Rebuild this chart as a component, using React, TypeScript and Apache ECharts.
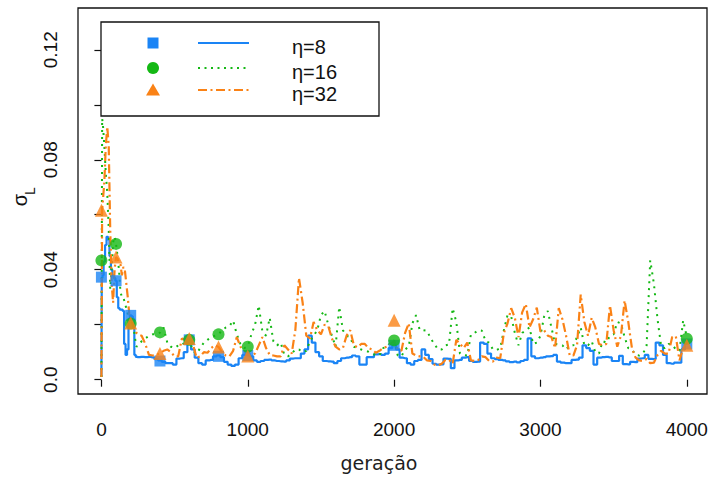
import React, { useEffect, useRef } from "react";
import * as echarts from "echarts";

// x grid (generations)
const earlyGenerations = [0, 5, 10, 20, 30, 40, 50, 60, 70, 80, 90, 100, 110, 120, 130, 140, 150, 160, 170, 180, 190, 200, 210, 220, 230, 240, 250];
const laterGenerations = Array.from({ length: 150 }, (_, i) => 275 + 25 * i);
const generations = [...earlyGenerations, ...laterGenerations];

// η=8
const eta8Values = [
  0.001, 0.037, 0.038, 0.043, 0.049, 0.052, 0.051, 0.045, 0.040, 0.038, 0.037, 0.036, 0.030, 0.026, 0.0255, 0.0255, 0.025, 0.013, 0.009, 0.011, 0.022, 0.0234, 0.023, 0.022, 0.009, 0.0083, 0.0082,
  0.0083, 0.0082,
  0.0083, 0.0081, 0.0075, 0.007,
  0.0065, 0.006, 0.006, 0.0055,
  0.0077, 0.0078, 0.010, 0.0145,
  0.011, 0.008, 0.006, 0.0055,
  0.007, 0.0072, 0.0085, 0.0088,
  0.0082, 0.0065, 0.0055, 0.005,
  0.0055, 0.0078, 0.009, 0.0095,
  0.0085, 0.007, 0.0065, 0.0068,
  0.0072, 0.0073, 0.007, 0.0068,
  0.0067, 0.0066, 0.007, 0.0077,
  0.0078, 0.0078, 0.0095, 0.011,
  0.016, 0.0135, 0.010, 0.0085,
  0.0068, 0.0067, 0.0066, 0.006,
  0.0068, 0.0078, 0.008, 0.0082,
  0.0088, 0.0085, 0.0055, 0.0055,
  0.0082, 0.0082, 0.0092, 0.0093,
  0.009, 0.0095, 0.0115, 0.0128,
  0.011, 0.008, 0.0078, 0.006,
  0.0055, 0.0068, 0.0072, 0.011,
  0.009, 0.0075, 0.0058, 0.0055,
  0.0056, 0.0077, 0.0076, 0.0042,
  0.007, 0.0072, 0.008, 0.0082,
  0.0068, 0.0065, 0.0066, 0.0135,
  0.013, 0.0095, 0.0078, 0.0075,
  0.0072, 0.007, 0.0067, 0.0064,
  0.0066, 0.0063, 0.0068, 0.0072,
  0.015, 0.0085, 0.0078, 0.008,
  0.0082, 0.0085, 0.0086, 0.009,
  0.0066, 0.0062, 0.006, 0.006,
  0.0072, 0.0073, 0.008, 0.0125,
  0.0115, 0.0105, 0.0055, 0.008,
  0.0082, 0.0083, 0.0081, 0.0068,
  0.0068, 0.0087, 0.0057, 0.0056,
  0.0065, 0.0064, 0.0077, 0.0078,
  0.009, 0.0076, 0.0075, 0.0135,
  0.0125, 0.009, 0.006, 0.0058,
  0.0062, 0.0062, 0.011, 0.013,
];

// η=16
const eta16Values = [
  0.001, 0.095, 0.093, 0.085, 0.075, 0.068, 0.055, 0.033, 0.04, 0.05, 0.052, 0.0494, 0.045, 0.04, 0.032, 0.03, 0.03, 0.028, 0.026, 0.024, 0.022, 0.0204, 0.02, 0.019, 0.015, 0.012, 0.0125,
  0.014, 0.015,
  0.016, 0.0165, 0.0165, 0.0171,
  0.019, 0.0135, 0.012, 0.0115,
  0.0125, 0.0125, 0.014, 0.0145,
  0.0105, 0.0095, 0.0115, 0.0135,
  0.0145, 0.0155, 0.016, 0.0165,
  0.018, 0.019, 0.0195, 0.0215,
  0.0165, 0.013, 0.0115, 0.0121,
  0.0165, 0.02, 0.027, 0.0175,
  0.016, 0.0225, 0.014, 0.0125,
  0.0135, 0.009, 0.0085, 0.0095,
  0.011, 0.011, 0.01, 0.0105,
  0.014, 0.016, 0.018, 0.0235,
  0.025, 0.02, 0.016, 0.012,
  0.0265, 0.018, 0.016, 0.0155,
  0.012, 0.0115, 0.011, 0.0105,
  0.0102, 0.0095, 0.009, 0.0088,
  0.0115, 0.012, 0.0135, 0.0143,
  0.0088, 0.0085, 0.011, 0.012,
  0.0205, 0.0235, 0.018, 0.018,
  0.0178, 0.015, 0.013, 0.011,
  0.011, 0.0125, 0.0128, 0.026,
  0.021, 0.0095, 0.009, 0.0088,
  0.0165, 0.017, 0.018, 0.0178,
  0.014, 0.0135, 0.011, 0.0108,
  0.0115, 0.018, 0.0235, 0.023,
  0.017, 0.0125, 0.017, 0.018,
  0.019, 0.013, 0.0135, 0.016,
  0.023, 0.025, 0.019, 0.013,
  0.0128, 0.0125, 0.011, 0.0125,
  0.0125, 0.0155, 0.019, 0.0125,
  0.0125, 0.014, 0.01, 0.0095,
  0.014, 0.0135, 0.016, 0.0165,
  0.021, 0.0205, 0.0155, 0.0115,
  0.011, 0.009, 0.0088, 0.0095,
  0.012, 0.0434, 0.035, 0.022,
  0.012, 0.0115, 0.013, 0.0128,
  0.011, 0.0105, 0.0216, 0.0155,
];

// η=32
const eta32Values = [
  0.001, 0.062, 0.065, 0.072, 0.085, 0.092, 0.085, 0.055, 0.035, 0.028, 0.04, 0.0446, 0.044, 0.043, 0.042, 0.038, 0.041, 0.04, 0.035, 0.03, 0.024, 0.0204, 0.021, 0.019, 0.018, 0.017, 0.0165,
  0.016, 0.013,
  0.009, 0.0088, 0.009, 0.0096,
  0.0105, 0.011, 0.010, 0.0085,
  0.0085, 0.015, 0.0145, 0.0145,
  0.013, 0.008, 0.0085, 0.010,
  0.0098, 0.0115, 0.0125, 0.0119,
  0.010, 0.0088, 0.0085, 0.0105,
  0.0155, 0.012, 0.0105, 0.0088,
  0.009, 0.0095, 0.0125, 0.0155,
  0.0115, 0.009, 0.0088, 0.0085,
  0.0085, 0.0125, 0.011, 0.0095,
  0.018, 0.037, 0.028, 0.016,
  0.015, 0.021, 0.018, 0.0165,
  0.020, 0.0195, 0.015, 0.012,
  0.011, 0.0115, 0.016, 0.018,
  0.0125, 0.0118, 0.013, 0.013,
  0.0115, 0.011, 0.0098, 0.0105,
  0.0115, 0.012, 0.013, 0.014,
  0.011, 0.0105, 0.017, 0.0205,
  0.0095, 0.0088, 0.0085, 0.0083,
  0.007, 0.0068, 0.0055, 0.0052,
  0.0058, 0.0072, 0.0073, 0.0058,
  0.0145, 0.013, 0.0115, 0.0135,
  0.007, 0.0068, 0.0072, 0.0085,
  0.0082, 0.0068, 0.0066, 0.008,
  0.0078, 0.017, 0.0205, 0.026,
  0.0225, 0.0155, 0.0245, 0.0275,
  0.019, 0.022, 0.0262, 0.0175,
  0.018, 0.016, 0.0155, 0.0115,
  0.026, 0.022, 0.016, 0.0088,
  0.0088, 0.0125, 0.031, 0.021,
  0.016, 0.0225, 0.019, 0.013,
  0.0125, 0.013, 0.027, 0.018,
  0.012, 0.016, 0.0288, 0.021,
  0.0115, 0.008, 0.007, 0.0068,
  0.0075, 0.006, 0.0062, 0.009,
  0.0105, 0.0095, 0.0095, 0.0155,
  0.0158, 0.007, 0.0115, 0.0125,
];

// markers
const markerGenerations = [0, 100, 200, 400, 600, 800, 1000, 2000, 4000];
const eta8Markers = [0.0373, 0.036, 0.0234, 0.0068, 0.0145, 0.0085, 0.0088, 0.0125, 0.013];
const eta16Markers = [0.0434, 0.0494, 0.0204, 0.0172, 0.0145, 0.0165, 0.012, 0.0143, 0.0149];
const eta32Markers = [0.0616, 0.0446, 0.0206, 0.0095, 0.015, 0.0119, 0.0086, 0.0216, 0.0125];

const seriesNames = ["η=8", "η=16", "η=32"];
const xTicks = [0, 1000, 2000, 3000, 4000];
const yTicks = [0, 0.02, 0.04, 0.06, 0.08, 0.1, 0.12];
const yLabelValues = [0, 0.04, 0.08, 0.12];

const BLUE = "#1A84F5";
const GREEN = "#14B814";
const ORANGE = "#FA8216";
const INK = "#111111";
const TICK_FONT = "Liberation Sans";

export default function App() {
  const ref = useRef<HTMLDivElement>(null);

  useEffect(() => {
    if (!ref.current) return;
    const chart = echarts.init(ref.current, null, { renderer: "svg" });

    const pair = (vals: number[]) => generations.map((g, i) => [g, vals[i]]);
    const mpair = (vals: number[]) => markerGenerations.map((g, i) => [g, vals[i]]);

    const legendRows = [
      { y: 43, color: BLUE, dash: null as number[] | null, name: seriesNames[0] },
      { y: 68, color: GREEN, dash: [2, 4.5], name: seriesNames[1] },
      { y: 90, color: ORANGE, dash: [9, 3.5, 2, 3.5], name: seriesNames[2] },
    ];

    const graphics: any[] = [
      {
        type: "rect",
        shape: { x: 101, y: 22, width: 278, height: 94 },
        style: { fill: "#ffffff", stroke: INK, lineWidth: 1.3 },
        z: 100,
      },
      {
        type: "rect",
        shape: { x: 147.5, y: 37.5, width: 11, height: 11 },
        style: { fill: BLUE },
        z: 101,
      },
      {
        type: "circle",
        shape: { cx: 153, cy: 68, r: 6 },
        style: { fill: GREEN },
        z: 101,
      },
      {
        type: "polygon",
        shape: { points: [[153, 83.5], [146, 95.5], [160, 95.5]] },
        style: { fill: ORANGE },
        z: 101,
      },
      ...legendRows.map((r) => ({
        type: "line",
        shape: { x1: 198, y1: r.y, x2: 249, y2: r.y },
        style: { stroke: r.color, lineWidth: 2, lineDash: r.dash || undefined },
        z: 101,
      })),
      ...legendRows.map((r) => ({
        type: "text",
        x: 292,
        y: r.y + 4,
        style: {
          text: r.name,
          fill: INK,
          fontSize: 20,
          fontFamily: TICK_FONT,
          align: "left",
          verticalAlign: "middle",
        },
        z: 101,
      })),
      {
        type: "text",
        x: 379,
        y: 463,
        style: {
          text: "geração",
          fill: "#1e1e1e",
          fontSize: 19,
          fontFamily: "DejaVu Sans",
          align: "center",
          verticalAlign: "middle",
        },
      },
      {
        type: "text",
        x: 20,
        y: 200,
        rotation: Math.PI / 2,
        style: {
          text: "σ",
          fill: INK,
          fontSize: 20,
          fontFamily: TICK_FONT,
          align: "center",
          verticalAlign: "middle",
        },
      },
      {
        type: "text",
        x: 30,
        y: 191,
        rotation: Math.PI / 2,
        style: {
          text: "L",
          fill: INK,
          fontSize: 14,
          fontFamily: TICK_FONT,
          align: "center",
          verticalAlign: "middle",
        },
      },
    ];

    chart.setOption({
      animation: false,
      backgroundColor: "#ffffff",
      grid: {
        left: 78,
        right: 4,
        top: 8,
        bottom: 83,
        show: true,
        borderColor: INK,
        borderWidth: 1.3,
        backgroundColor: "transparent",
      },
      xAxis: {
        type: "value",
        min: -160,
        max: 4138,
        axisLine: { show: false },
        splitLine: { show: false },
        axisTick: {
          show: true,
          inside: false,
          length: 7,
          customValues: xTicks,
          lineStyle: { color: INK, width: 1.2 },
        },
        axisLabel: {
          customValues: xTicks,
          margin: 26,
          fontSize: 19,
          fontFamily: TICK_FONT,
          color: INK,
          formatter: (v: number) => String(Math.round(v)),
        },
      },
      yAxis: {
        type: "value",
        min: -0.0052,
        max: 0.1352,
        axisLine: { show: false },
        splitLine: { show: false },
        axisTick: {
          show: true,
          inside: false,
          length: 7,
          customValues: yTicks,
          lineStyle: { color: INK, width: 1.2 },
        },
        axisLabel: {
          customValues: yLabelValues,
          rotate: 90,
          margin: 18,
          fontSize: 19,
          fontFamily: TICK_FONT,
          color: INK,
          formatter: (v: number) => (Math.abs(v) < 1e-9 ? "0.0" : v.toFixed(2)),
        },
      },
      graphic: graphics,
      series: [
        {
          name: seriesNames[0],
          type: "line",
          data: pair(eta8Values),
          showSymbol: false,
          symbol: "none",
          silent: true,
          step: "middle",
          lineStyle: { color: BLUE, width: 2.2 },
          z: 2,
        },
        {
          name: seriesNames[1],
          type: "line",
          data: pair(eta16Values),
          showSymbol: false,
          symbol: "none",
          silent: true,
          lineStyle: { color: GREEN, width: 2, type: [2, 5] },
          z: 3,
        },
        {
          name: seriesNames[2],
          type: "line",
          data: pair(eta32Values),
          showSymbol: false,
          symbol: "none",
          silent: true,
          lineStyle: { color: ORANGE, width: 2.2, type: [9, 3.5, 2, 3.5] },
          z: 4,
        },
        {
          type: "scatter",
          data: mpair(eta8Markers),
          symbol: "rect",
          symbolSize: 11,
          itemStyle: { color: BLUE },
          silent: true,
          z: 5,
        },
        {
          type: "scatter",
          data: mpair(eta16Markers),
          symbol: "circle",
          symbolSize: 12,
          itemStyle: { color: GREEN },
          silent: true,
          z: 6,
        },
        {
          type: "scatter",
          data: mpair(eta32Markers),
          symbol: "triangle",
          symbolSize: 13,
          itemStyle: { color: ORANGE },
          silent: true,
          z: 7,
        },
      ],
    });

    return () => chart.dispose();
  }, []);

  return (
    <div
      ref={ref}
      style={{ position: "absolute", left: 0, top: 0, width: 711, height: 477, background: "#fff" }}
    />
  );
}
